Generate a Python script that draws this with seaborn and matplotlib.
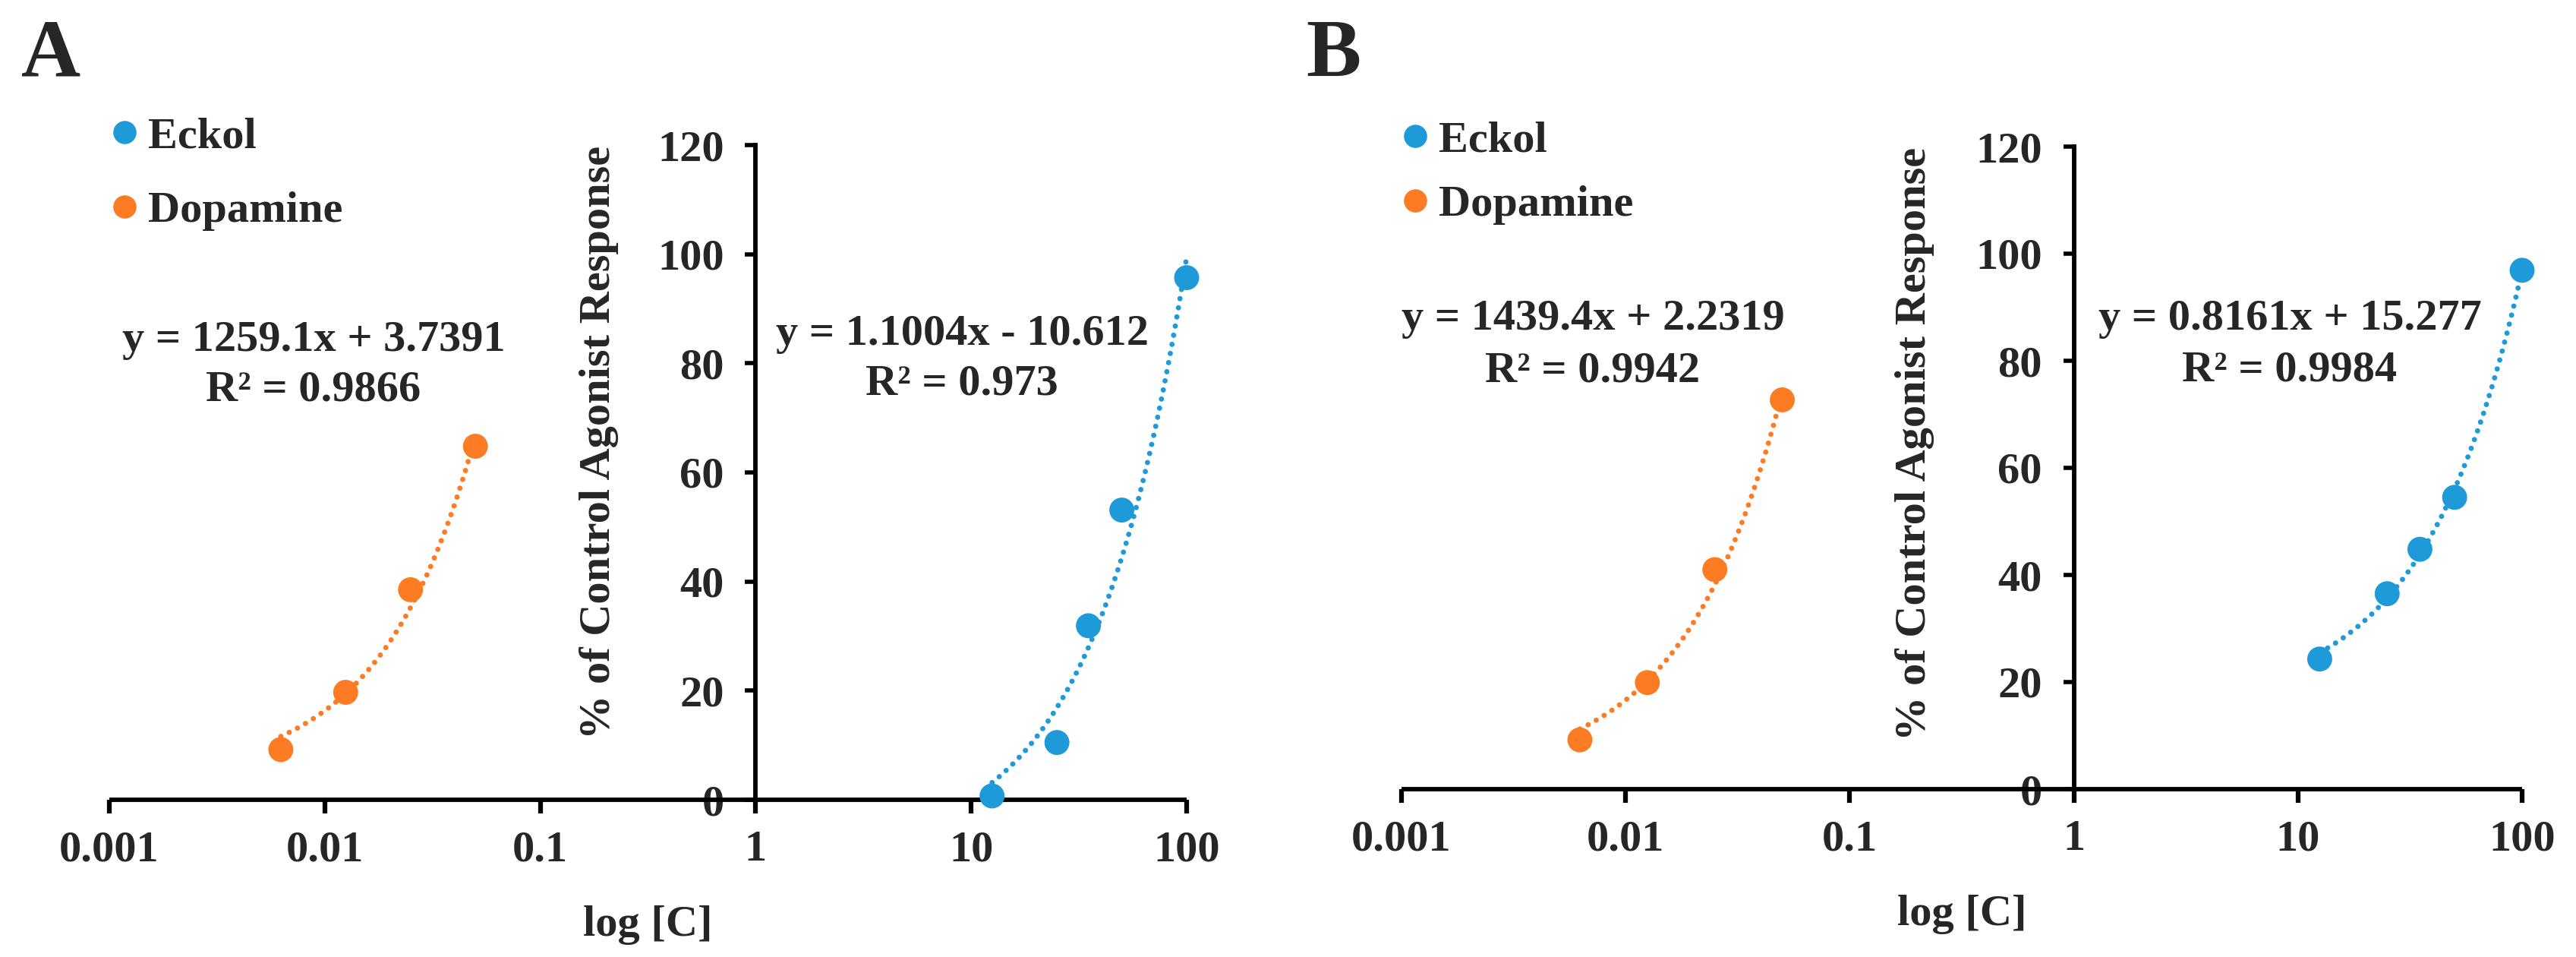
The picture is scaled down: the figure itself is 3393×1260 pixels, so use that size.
import numpy as np
import pandas as pd
import matplotlib
matplotlib.use("Agg")
import matplotlib.pyplot as plt
from matplotlib.lines import Line2D
import seaborn as sns

# ---------------- data ----------------
dop_conc = [0.00625, 0.0125, 0.025, 0.05]
eck_conc = [12.5, 25, 35, 50, 100]

a_dop_resp = [9.2, 19.7, 38.5, 64.8]
a_eck_resp = [0.7, 10.5, 31.9, 53.1, 95.7]
b_dop_resp = [9.2, 19.9, 41.0, 72.7]
b_eck_resp = [24.3, 36.5, 44.8, 54.5, 96.9]

# trendline coefficients (slope, intercept) and labels
a_dop_fit = (1259.1, 3.7391)
a_eck_fit = (1.1004, -10.612)
b_dop_fit = (1439.4, 2.2319)
b_eck_fit = (0.8161, 15.277)
a_dop_label = ["y = 1259.1x + 3.7391", "R\u00b2 = 0.9866"]
a_eck_label = ["y = 1.1004x - 10.612", "R\u00b2 = 0.973"]
b_dop_label = ["y = 1439.4x + 2.2319", "R\u00b2 = 0.9942"]
b_eck_label = ["y = 0.8161x + 15.277", "R\u00b2 = 0.9984"]

series_names = ["Eckol", "Dopamine"]
x_ticks = [0.001, 0.01, 0.1, 1, 10, 100]
x_ticklabels = ["0.001", "0.01", "0.1", "1", "10", "100"]
y_ticks = [0, 20, 40, 60, 80, 100, 120]
panel_letters = ["A", "B"]
xlabel = "log [C]"
ylabel = "% of Control Agonist Response"

BLUE = "#1E9AD8"
ORANGE = "#FD7B23"

sns.set_theme(style="white")
plt.rcParams["font.family"] = ["Liberation Serif", "DejaVu Serif"]
plt.rcParams["font.weight"] = "bold"

W, H = 3393, 1260
fig = plt.figure(figsize=(W / 100, H / 100), dpi=100)
FS = 42


def px_rect(x0, x1, y0, y1):
    # x0,x1 pixel left/right; y0 = pixel of y=0, y1 = pixel of y=120
    return [x0 / W, 1 - y0 / H, (x1 - x0) / W, (y0 - y1) / H]


panels = [
    dict(rect=px_rect(144, 1563, 1053, 191), dop=a_dop_resp, eck=a_eck_resp,
         dfit=a_dop_fit, efit=a_eck_fit, dlab=a_dop_label, elab=a_eck_label,
         dtext=(413, 448, 513), etext=(1267, 440, 506), letter=(28, 100),
         leg=(164, 180, 278), ylab=(0.473, 0.546)),
    dict(rect=px_rect(1846, 3322, 1039, 193), dop=b_dop_resp, eck=b_eck_resp,
         dfit=b_dop_fit, efit=b_eck_fit, dlab=b_dop_label, elab=b_eck_label,
         dtext=(2098, 420, 489), etext=(3016, 420, 488), letter=(1720, 100),
         leg=(1864, 185, 270), ylab=(0.4756, 0.537)),
]

for i, p in enumerate(panels):
    ax = fig.add_axes(p["rect"])
    ax.set_xscale("log")

    # trend lines from fitted coefficients
    for conc, fit, col in [(dop_conc, p["dfit"], ORANGE), (eck_conc, p["efit"], BLUE)]:
        xs = np.geomspace(min(conc), max(conc), 200)
        df_line = pd.DataFrame({"x": xs, "y": fit[0] * xs + fit[1]})
        sns.lineplot(data=df_line, x="x", y="y", ax=ax, color=col,
                     estimator=None, sort=False, linewidth=5.0)
        ln = ax.lines[-1]
        ln.set_dashes((0.01, 1.75))
        ln.set_dash_capstyle("round")
        ln.set_clip_on(False)

    df_pts = pd.DataFrame({
        "conc": list(eck_conc) + list(dop_conc),
        "resp": list(p["eck"]) + list(p["dop"]),
        "series": ["Eckol"] * len(eck_conc) + ["Dopamine"] * len(dop_conc),
    })
    sns.scatterplot(data=df_pts, x="conc", y="resp", hue="series",
                    palette={"Eckol": BLUE, "Dopamine": ORANGE},
                    s=560, linewidth=0, ax=ax, legend=False, zorder=5,
                    clip_on=False)

    ax.set_xlim(0.001, 100)
    ax.set_ylim(0, 120)
    ax.set_xticks(x_ticks)
    ax.set_xticklabels(x_ticklabels)
    ax.xaxis.set_minor_locator(matplotlib.ticker.NullLocator())
    ax.set_yticks(y_ticks)
    ax.set_yticklabels([str(v) for v in y_ticks])

    for s in ["top", "right"]:
        ax.spines[s].set_visible(False)
    ax.spines["left"].set_position(("data", 1))
    ax.spines["left"].set_linewidth(4.2)
    ax.spines["bottom"].set_linewidth(4.2)
    ax.spines["left"].set_color("black")
    ax.spines["bottom"].set_color("black")
    ax.spines["bottom"].set_capstyle("butt")

    ax.tick_params(axis="x", which="major", direction="out", length=13, width=4.5,
                   color="black", pad=16, labelsize=FS, bottom=True)
    ax.tick_params(axis="y", which="major", direction="out", length=10, width=4,
                   color="black", pad=20, labelsize=FS, left=True)
    for lab in ax.get_xticklabels() + ax.get_yticklabels():
        lab.set_fontweight("bold")

    ax.set_xlabel(xlabel, fontsize=FS, fontweight="bold", labelpad=34)
    ax.set_ylabel(ylabel, fontsize=FS, fontweight="bold")
    ax.yaxis.set_label_coords(*p["ylab"])
    ax.patch.set_alpha(0)

    # equations
    for (cx, y1, y2), lab in [(p["dtext"], p["dlab"]), (p["etext"], p["elab"])]:
        fig.text(cx / W, 1 - y1 / H, lab[0], ha="center", va="center",
                 fontsize=FS, fontweight="bold")
        fig.text(cx / W, 1 - y2 / H, lab[1], ha="center", va="center",
                 fontsize=FS, fontweight="bold")

    # panel letter
    lx, lby = p["letter"]
    fig.text(lx / W, 1 - lby / H, panel_letters[i], ha="left", va="baseline",
             fontsize=78, fontweight="bold")

    # legend
    mx, ey, dy = p["leg"]
    handles = [Line2D([], [], marker="o", linestyle="none", color=c,
                      markersize=22, markeredgewidth=0)
               for c in [BLUE, ORANGE]]
    for h, name, yy in zip(handles, series_names, [ey, dy]):
        fig.legend([h], [name], loc="center left",
                   bbox_to_anchor=((mx - 23) / W, 1 - yy / H),
                   frameon=False, handlelength=0.8,
                   handletextpad=0.12, borderpad=0, borderaxespad=0,
                   prop={"weight": "bold", "size": FS})

fig.savefig("out.png", dpi=100, facecolor="white")
